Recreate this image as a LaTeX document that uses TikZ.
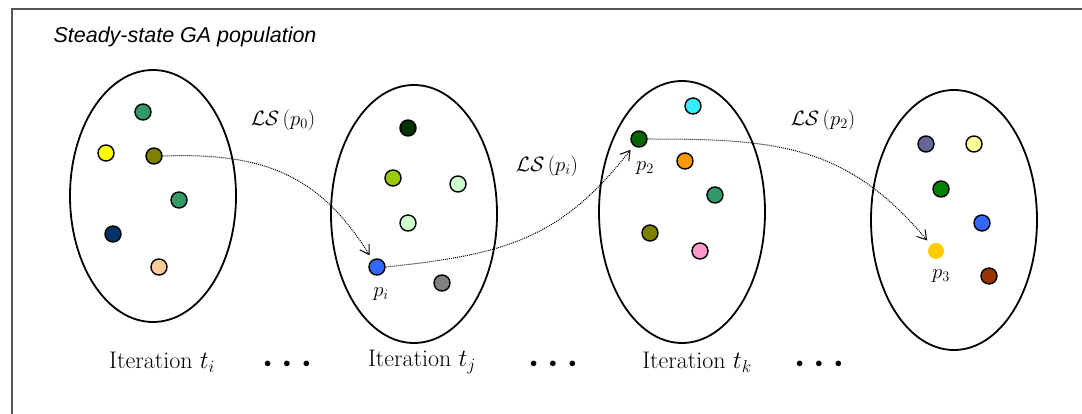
\documentclass[tikz,border=0pt]{standalone}
\usepackage{fontspec}
\newfontfamily\headfont{Liberation Sans}
\usepackage{tikz}
\usetikzlibrary{shapes.geometric,arrows.meta}
\definecolor{frameGray}{HTML}{555555}
\definecolor{dotSea}{HTML}{339966}
\definecolor{dotYellow}{HTML}{FFFF00}
\definecolor{dotOlive}{HTML}{808000}
\definecolor{dotNavy}{HTML}{003366}
\definecolor{dotPeach}{HTML}{FFCC99}
\definecolor{dotForest}{HTML}{003300}
\definecolor{dotLime}{HTML}{99CC00}
\definecolor{dotMint}{HTML}{CCFFCC}
\definecolor{dotBlue}{HTML}{3366FF}
\definecolor{dotGray}{HTML}{808080}
\definecolor{dotCyan}{HTML}{33EEFF}
\definecolor{dotGreen}{HTML}{006600}
\definecolor{dotOrange}{HTML}{FF9900}
\definecolor{dotPink}{HTML}{FF99CC}
\definecolor{dotSlate}{HTML}{666699}
\definecolor{dotCream}{HTML}{FFFF99}
\definecolor{dotKelly}{HTML}{008000}
\definecolor{dotGold}{HTML}{FFCC00}
\definecolor{dotBrown}{HTML}{993300}

\begin{document}
\begin{tikzpicture}[
    x=1pt, y=1pt,
    pop/.style={ellipse, draw=black, line width=1.8pt, inner sep=0pt,
                minimum width=166pt},
    ind/.style={circle, draw=black, line width=1.4pt, inner sep=0pt,
                minimum size=16pt},
    ls/.style={densely dotted, line width=1pt,
               -{Straight Barb[length=9pt, width=11pt, line width=1pt]},
               shorten >=5pt, shorten <=0pt},
    lslabel/.style={font=\fontsize{20}{24}\selectfont},
    plabel/.style={font=\fontsize{22}{26}\selectfont},
    iter/.style={font=\fontsize{24}{28}\selectfont},
    more/.style={font=\fontsize{15}{18}\selectfont},
    frame/.style={draw=frameGray, line width=1.5pt},
]
    \useasboundingbox (0,0) rectangle (1082,-414);

    % frame and title
    \draw[frame] (12,-414) -- (12,-9) -- (1082,-9);
    \node[anchor=west, font=\headfont\itshape\fontsize{21.5}{26}\selectfont] (title) at (50,-37) {Steady-state GA population};

    % populations
    \node[pop, minimum height=252pt] (popA) at (153,-196) {};
    \node[pop, minimum height=258pt] (popB) at (414,-214) {};
    \node[pop, minimum height=262pt] (popC) at (682,-212) {};
    \node[pop, minimum height=260pt] (popD) at (954,-220) {};

    % individuals, iteration t_i
    \node[ind, fill=dotSea] (a1) at (143,-112) {};
    \node[ind, fill=dotYellow] (a2) at (106,-153) {};
    \node[ind, fill=dotOlive] (a3) at (154,-156) {};
    \node[ind, fill=dotSea] (a4) at (179,-200) {};
    \node[ind, fill=dotNavy] (a5) at (113,-234) {};
    \node[ind, fill=dotPeach] (a6) at (159,-267) {};

    % individuals, iteration t_j
    \node[ind, fill=dotForest] (b1) at (408,-128) {};
    \node[ind, fill=dotLime] (b2) at (393,-178) {};
    \node[ind, fill=dotMint] (b3) at (458,-184) {};
    \node[ind, fill=dotMint] (b4) at (408,-223) {};
    \node[ind, fill=dotBlue] (b5) at (377,-267) {};
    \node[ind, fill=dotGray] (b6) at (442,-283) {};

    % individuals, iteration t_k
    \node[ind, fill=dotCyan] (c1) at (693,-106) {};
    \node[ind, fill=dotGreen] (c2) at (639,-139) {};
    \node[ind, fill=dotOrange] (c3) at (685,-161) {};
    \node[ind, fill=dotSea] (c4) at (715,-195) {};
    \node[ind, fill=dotOlive] (c5) at (650,-233) {};
    \node[ind, fill=dotPink] (c6) at (700,-251) {};

    % individuals, last population
    \node[ind, fill=dotSlate] (d1) at (926,-144) {};
    \node[ind, fill=dotCream] (d2) at (974,-144) {};
    \node[ind, fill=dotKelly] (d3) at (941,-189) {};
    \node[ind, fill=dotBlue] (d4) at (982,-223) {};
    \node[ind, fill=dotGold, draw=none] (d5) at (936,-251) {};
    \node[ind, fill=dotBrown] (d6) at (989,-276) {};

    % labels
    \node[plabel] (pI) at (381,-294) {$p_i$};
    \node[plabel] (pTwo) at (645,-168) {$p_2$};
    \node[plabel] (pThree) at (941,-276) {$p_3$};
    \node[lslabel] (lsA) at (283,-120) {$\mathcal{LS}\,(p_0)$};
    \node[lslabel] (lsB) at (547,-166) {$\mathcal{LS}\,(p_i)$};
    \node[lslabel] (lsC) at (823,-120) {$\mathcal{LS}\,(p_2)$};

    % local search moves
    \draw[ls] (a3.east) to[out=2, in=122, looseness=1.1] (b5);
    \draw[ls] (b5.east) to[out=6, in=232, looseness=1.1] (c2);
    \draw[ls] (c2.east) to[out=0, in=130, looseness=1.1] (d5);

    % iterations
    \node[iter] (itA) at (162,-362) {Iteration $t_i$};
    \node[more] (dotsA) at (287,-364) {$\bullet\hspace{9pt}\bullet\hspace{9pt}\bullet$};
    \node[iter] (itB) at (422,-362) {Iteration $t_j$};
    \node[more] (dotsB) at (553,-364) {$\bullet\hspace{9pt}\bullet\hspace{9pt}\bullet$};
    \node[iter] (itC) at (697,-362) {Iteration $t_k$};
    \node[more] (dotsC) at (819,-364) {$\bullet\hspace{9pt}\bullet\hspace{9pt}\bullet$};
\end{tikzpicture}
\end{document}
